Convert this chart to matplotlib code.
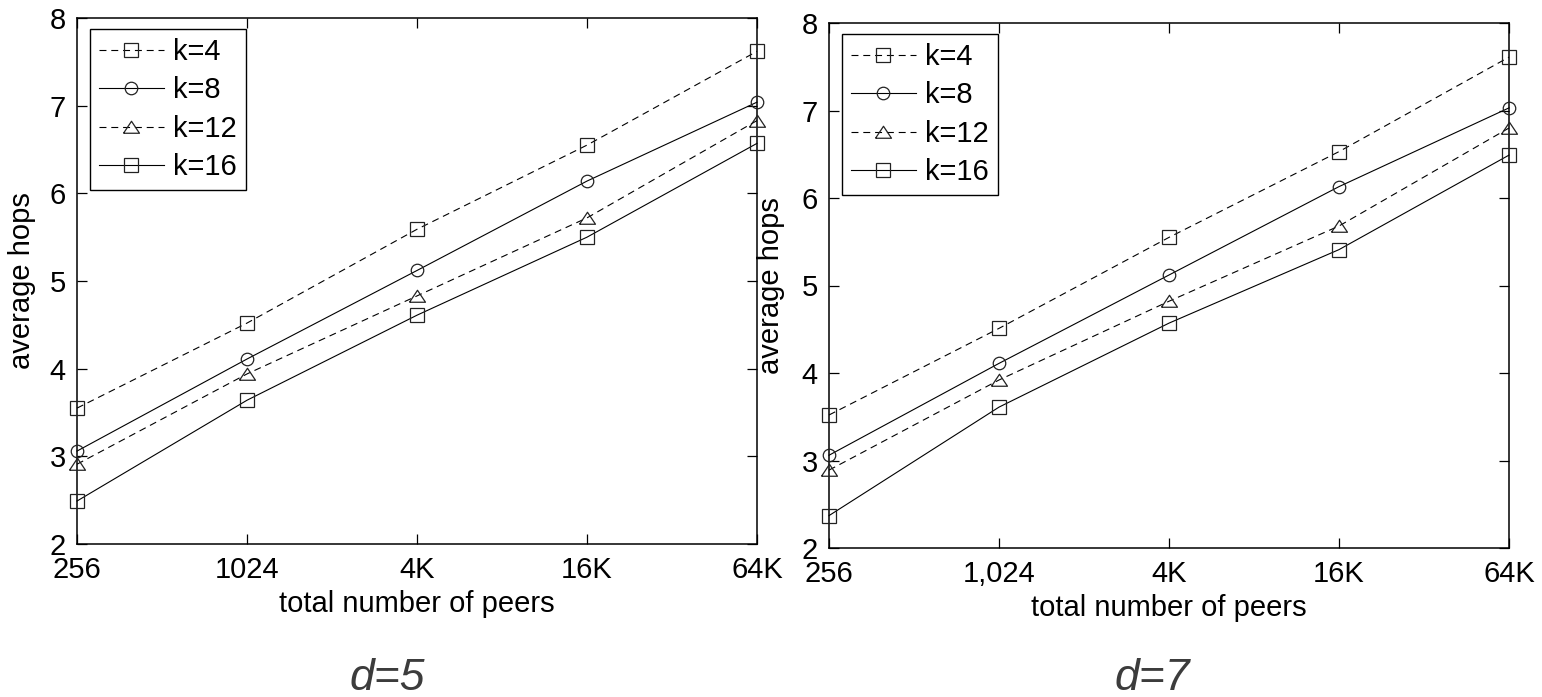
import matplotlib
matplotlib.use("Agg")
import matplotlib.pyplot as plt
from matplotlib.ticker import FixedLocator, NullLocator

plt.rcParams['font.family'] = ['Liberation Sans', 'DejaVu Sans']
plt.rcParams['lines.scale_dashes'] = False

# ---- data ----
peers = [256, 1024, 4096, 16384, 65536]
xtick_labels_d5 = ['256', '1024', '4K', '16K', '64K']
xtick_labels_d7 = ['256', '1,024', '4K', '16K', '64K']
series_labels = ['k=4', 'k=8', 'k=12', 'k=16']

d5_k4 = [3.55, 4.52, 5.59, 6.55, 7.62]
d5_k8 = [3.06, 4.11, 5.12, 6.14, 7.04]
d5_k12 = [2.91, 3.94, 4.83, 5.72, 6.83]
d5_k16 = [2.49, 3.64, 4.61, 5.50, 6.57]

d7_k4 = [3.52, 4.51, 5.55, 6.53, 7.61]
d7_k8 = [3.06, 4.11, 5.12, 6.13, 7.03]
d7_k12 = [2.89, 3.92, 4.82, 5.68, 6.80]
d7_k16 = [2.37, 3.61, 4.57, 5.41, 6.49]

yticks = [2, 3, 4, 5, 6, 7, 8]
xlabel = 'total number of peers'
ylabel = 'average hops'
titles = ['d=5', 'd=7']

# ---- styles ----
tri = [(-1, -0.72), (1, -0.72), (0, 0.78), (-1, -0.72)]
styles = [
    dict(ls=(0, (5, 3.5)), marker='s', ms=10.5),
    dict(ls='-', marker='o', ms=9),
    dict(ls=(0, (5, 3.5)), marker=tri, ms=11.5),
    dict(ls='-', marker='s', ms=10.5),
]

W, H = 1542, 697
fig = plt.figure(figsize=(W / 100, H / 100), dpi=100)

def px_axes(x0, y0, x1, y1):
    return fig.add_axes([x0 / W, 1 - y1 / H, (x1 - x0) / W, (y1 - y0) / H])

ax1 = px_axes(77, 18, 757, 544)
ax2 = px_axes(829, 23, 1509, 548)

panels = [
    (ax1, [d5_k4, d5_k8, d5_k12, d5_k16], xtick_labels_d5, -0.061),
    (ax2, [d7_k4, d7_k8, d7_k12, d7_k16], xtick_labels_d7, -0.064),
]

for ax, data, xlabs, ylx in panels:
    for vals, lab, st in zip(data, series_labels, styles):
        ax.plot(peers, vals, color='black', lw=0.8, linestyle=st['ls'],
                marker=st['marker'], ms=st['ms'], mfc='none', mec='#222222',
                mew=0.9, label=lab, clip_on=False, zorder=3)
    ax.set_xscale('log', base=2)
    ax.set_xlim(peers[0], peers[-1])
    ax.set_ylim(yticks[0], yticks[-1])
    ax.xaxis.set_major_locator(FixedLocator(peers))
    ax.xaxis.set_minor_locator(NullLocator())
    ax.set_xticklabels(xlabs)
    ax.set_yticks(yticks)
    ax.tick_params(direction='in', length=7, width=0.9, top=True, right=True,
                   labelsize=21, pad=8, colors='black')
    ax.tick_params(axis='x', pad=9)
    for sp in ax.spines.values():
        sp.set_linewidth(1.1)
    ax.set_xlabel(xlabel, fontsize=21, labelpad=4)
    ax.set_ylabel(ylabel, fontsize=21)
    ax.yaxis.set_label_coords(ylx, 0.5)
    leg = ax.legend(loc='upper left', bbox_to_anchor=(0.019, 0.979),
                    borderaxespad=0, fontsize=21, handlelength=2.25,
                    handletextpad=0.3, labelspacing=0.36, borderpad=0.3,
                    fancybox=False, edgecolor='black', framealpha=1)
    leg.get_frame().set_linewidth(1.0)

fig.text(387 / W, 1 - 690 / H, titles[0], fontsize=32, style='italic',
         color='#3c3c3c', ha='center', va='baseline')
fig.text(1152 / W, 1 - 690 / H, titles[1], fontsize=32, style='italic',
         color='#3c3c3c', ha='center', va='baseline')

fig.savefig('out.png', dpi=100)
